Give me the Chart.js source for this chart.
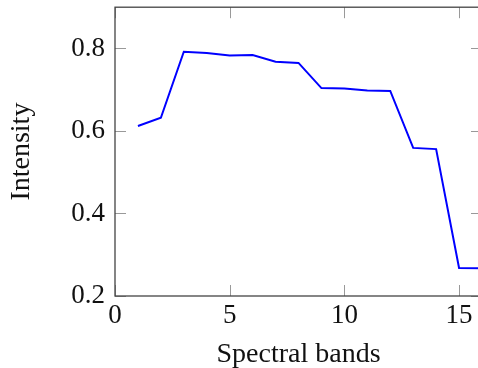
<!DOCTYPE html>
<html>
<head>
<meta charset="utf-8">
<script src="https://cdn.jsdelivr.net/npm/chart.js@4"></script>
<style>
  html, body { margin: 0; padding: 0; background: #fff; overflow: hidden; }
  canvas { display: block; }
</style>
</head>
<body>
<canvas id="chart" width="490" height="387"></canvas>
<script>
const bands = [1, 2, 3, 4, 5, 6, 7, 8, 9, 10, 11, 12, 13, 14, 15, 16]
const intensity = [0.612, 0.632, 0.792, 0.789, 0.783, 0.784, 0.768, 0.765,
                   0.704, 0.703, 0.698, 0.697, 0.559, 0.556, 0.268, 0.267]
const xTicks = [0, 5, 10, 15]
const yTicks = [0.2, 0.4, 0.6, 0.8]

const tickFont = {family: "'Liberation Serif', serif", size: 27}
const titleFont = {family: "'Liberation Serif', serif", size: 28}

// pgfplots style: box around plot, ticks pointing inward on all sides
const boxPlugin = {
  id: "box",
  afterDatasetsDraw(c) {
    const {ctx, chartArea: a, scales: {x, y}} = c
    ctx.save()
    ctx.strokeStyle = "#999"
    ctx.lineWidth = 1
    xTicks.forEach(v => {
      const px = Math.round(x.getPixelForValue(v)) + 0.5
      ctx.beginPath()
      ctx.moveTo(px, a.bottom); ctx.lineTo(px, a.bottom - 11)
      ctx.moveTo(px, a.top); ctx.lineTo(px, a.top + 11)
      ctx.stroke()
    })
    yTicks.forEach(v => {
      const py = Math.round(y.getPixelForValue(v)) + 0.5
      ctx.beginPath()
      ctx.moveTo(a.left, py); ctx.lineTo(a.left + 11, py)
      ctx.moveTo(a.right, py); ctx.lineTo(a.right - 11, py)
      ctx.stroke()
    })
    ctx.strokeStyle = "#444"
    ctx.lineWidth = 1.3
    ctx.strokeRect(a.left, a.top, a.right - a.left, a.bottom - a.top)
    ctx.restore()
  }
}

const chart = new Chart("chart", {
  type: "line",
  data: {
    datasets: [{
      data: bands.map((b, i) => ({x: b, y: intensity[i]})),
      borderColor: "#0000ff",
      borderWidth: 2,
      pointRadius: 0,
      tension: 0,
      fill: false,
    }]
  },
  options: {
    responsive: false,
    animation: false,
    layout: {padding: {top: 0, right: 8, left: 0, bottom: 0}},
    plugins: {
      legend: {display: false},
      tooltip: {enabled: false},
    },
    scales: {
      x: {
        type: "linear",
        min: 0, max: 16,
        afterBuildTicks: s => { s.ticks = xTicks.map(v => ({value: v})) },
        afterFit: s => { s.height = 72 },
        grid: {display: false, drawTicks: false},
        border: {display: false},
        ticks: {color: "#111", font: tickFont, padding: 4, maxRotation: 0, autoSkip: false},
        title: {display: true, text: "Spectral bands", color: "#111", font: titleFont, padding: {top: 0, bottom: -3}},
      },
      y: {
        min: 0.2, max: 0.9,
        afterBuildTicks: s => { s.ticks = yTicks.map(v => ({value: v})) },
        afterFit: s => { s.width = 115 },
        grid: {display: false, drawTicks: false},
        border: {display: false},
        ticks: {color: "#111", font: tickFont, padding: 10, autoSkip: false, callback: v => v.toFixed(1)},
        title: {display: true, text: "Intensity", color: "#111", font: titleFont, padding: {top: 5, bottom: 0}},
      }
    }
  },
  plugins: [boxPlugin]
})

// line the plot box top up with the reference
chart.canvas.style.marginTop = (7 - chart.chartArea.top) + "px"
</script>
</body>
</html>
